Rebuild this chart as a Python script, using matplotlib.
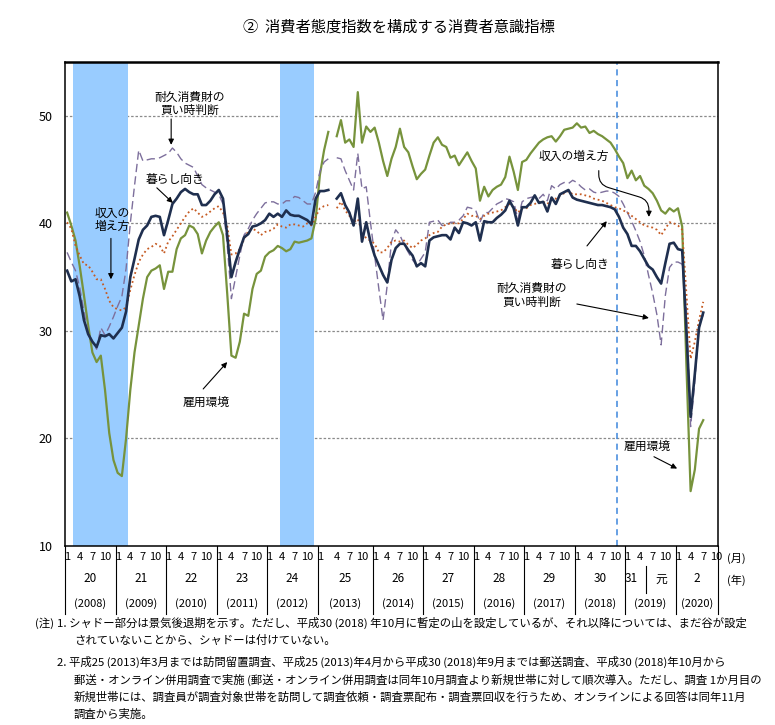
# -*- coding: utf-8 -*-

"""
消費者態度指数を構成する消費者意識指標 (2008年1月～2020年7月) を
折れ線グラフで描き、out.png に保存する
"""

import matplotlib
matplotlib.use("Agg")
import matplotlib.pyplot as plt
import matplotlib.transforms as mtransforms

plt.rcParams['font.family'] = ['Noto Sans CJK JP', 'DejaVu Sans']
NUM_FONT = ['Liberation Sans Narrow', 'Noto Sans CJK JP', 'DejaVu Sans']

# 月次データ 2008年1月から2020年7月まで (1年ごとに改行)
kurashi = [35.6, 34.6, 34.8, 33.2, 31.0, 29.7, 29.0, 28.5, 29.6, 29.5, 29.7, 29.3,
           29.8, 30.3, 31.8, 35.0, 36.7, 38.5, 39.4, 39.8, 40.6, 40.7, 40.6, 38.9,
           40.3, 41.8, 42.3, 42.9, 43.2, 42.9, 42.7, 42.7, 41.7, 41.7, 42.1, 42.7,
           43.1, 42.3, 38.9, 35.0, 36.4, 37.6, 38.7, 39.0, 39.7, 39.8, 40.0, 40.3,
           40.9, 40.6, 40.9, 40.6, 41.2, 40.8, 40.7, 40.7, 40.5, 40.3, 39.9, 42.3,
           43.0, 43.0, 43.1, 42.3, 42.8, 41.7, 41.0, 39.8, 42.3, 38.3, 40.1, 38.3,
           37.0, 36.1, 35.2, 34.5, 36.6, 37.7, 38.1, 38.1, 37.5, 37.0, 36.0, 36.3,
           36.0, 38.4, 38.7, 38.8, 38.9, 38.9, 38.5, 39.6, 39.1, 40.1, 40.0, 39.8,
           40.1, 38.4, 40.2, 40.1, 40.1, 40.5, 40.8, 41.2, 42.1, 41.4, 39.8, 41.5,
           41.5, 41.9, 42.6, 41.9, 42.0, 41.1, 42.4, 41.8, 42.7, 42.9, 43.1, 42.4,
           42.2, 42.1, 42.0, 41.9, 41.8, 41.7, 41.7, 41.6, 41.5, 41.3, 40.6, 39.6,
           39.0, 37.9, 37.9, 37.4, 36.7, 36.0, 35.7, 35.0, 34.4, 36.3, 38.1, 38.2,
           37.6, 37.5, 30.0, 22.0, 26.0, 30.3, 31.7]

shunyu = [40.1, 39.5, 37.9, 37.0, 36.2, 36.1, 35.5, 34.8, 34.8, 33.9, 32.8, 32.2,
          32.0, 31.9, 32.2, 33.8, 35.2, 36.4, 37.1, 37.6, 37.8, 38.1, 37.9, 37.2,
          38.3, 38.8, 39.4, 40.0, 40.6, 41.1, 41.4, 41.0, 40.6, 40.8, 41.1, 41.4,
          41.6, 41.0, 39.8, 37.1, 37.2, 37.6, 38.5, 39.3, 39.5, 39.3, 38.9, 39.2,
          39.3, 39.5, 39.9, 39.7, 39.6, 39.9, 39.9, 39.8, 39.7, 40.0, 39.8, 40.6,
          41.4, 41.6, 41.7, 41.4, 42.0, 41.2, 40.7, 40.1, 40.4, 39.2, 38.6, 38.4,
          38.1, 37.3, 37.3, 37.7, 38.3, 38.4, 38.3, 38.4, 38.0, 37.7, 38.0, 38.4,
          38.6, 38.9, 39.1, 39.2, 39.7, 39.9, 40.0, 40.0, 40.0, 40.4, 40.9, 40.7,
          40.7, 40.4, 40.7, 40.9, 41.0, 41.1, 41.2, 41.5, 41.8, 41.5, 41.0, 41.4,
          41.4, 41.7, 41.8, 42.0, 42.0, 41.8, 42.2, 42.3, 42.6, 42.8, 43.0, 42.7,
          42.7, 42.7, 42.6, 42.5, 42.3, 42.2, 42.1, 41.9, 41.7, 41.5, 41.4, 41.2,
          41.0, 40.7, 40.4, 40.1, 39.8, 39.7, 39.6, 39.4, 38.9, 39.5, 40.1, 40.0,
          39.8, 39.4, 33.5, 27.4, 29.0, 31.0, 32.7]

koyo = [41.0, 39.8, 38.4, 36.0, 33.3, 30.5, 28.0, 27.1, 27.7, 24.5, 20.5, 18.0,
        16.8, 16.5, 20.0, 24.5, 28.0, 30.5, 33.0, 35.0, 35.6, 35.8, 36.1, 33.9,
        35.5, 35.5, 37.6, 38.6, 38.9, 39.8, 39.6, 39.0, 37.2, 38.4, 39.2, 39.7,
        40.1, 38.9, 33.5, 27.7, 27.5, 29.0, 31.6, 31.4, 33.9, 35.3, 35.6, 36.9,
        37.3, 37.5, 37.9, 37.7, 37.4, 37.6, 38.3, 38.2, 38.3, 38.4, 38.6, 40.4,
        44.5, 46.8, 48.5, 48.1, 49.6, 47.5, 47.8, 47.1, 52.2, 47.5, 49.0, 48.5,
        48.9, 47.5, 45.8, 44.4, 46.0, 47.1, 48.8, 47.1, 46.6, 45.3, 44.1, 44.6,
        45.0, 46.3, 47.5, 48.0, 47.3, 47.1, 46.1, 46.3, 45.4, 46.0, 46.6, 45.8,
        45.1, 42.1, 43.4, 42.5, 43.1, 43.4, 43.6, 44.3, 46.2, 44.8, 43.1, 45.7,
        45.9, 46.5, 47.0, 47.5, 47.8, 48.0, 48.1, 47.6, 48.1, 48.7, 48.8, 48.9,
        49.3, 48.9, 49.0, 48.4, 48.6, 48.3, 48.1, 47.8, 47.5, 46.9, 46.2, 45.6,
        44.2, 44.9, 44.0, 44.4, 43.5, 43.2, 42.8, 42.1, 41.2, 40.9, 41.4, 41.1,
        41.4, 39.7, 26.8, 15.1, 17.1, 20.9, 21.7]

taikyu = [37.3, 36.4, 35.6, 34.0, 31.8, 29.8, 29.0, 28.3, 30.3, 29.6, 30.4, 31.3,
          32.3, 33.2, 35.8, 40.0, 43.5, 46.8, 45.8, 45.9, 46.0, 46.0, 46.1, 46.3,
          46.5, 47.0, 46.6, 46.0, 45.6, 45.4, 45.2, 44.4, 43.6, 43.3, 43.1, 42.9,
          42.7, 41.8, 38.0, 33.0, 35.0, 37.0, 38.9, 39.5, 40.3, 40.9, 41.4, 41.9,
          42.0, 42.0, 41.8, 41.8, 42.1, 42.1, 42.5, 42.4, 42.1, 41.8, 41.8, 42.9,
          44.8, 45.7, 46.0, 46.1, 46.0, 44.9, 44.0, 43.1, 46.5, 43.2, 43.4, 40.1,
          37.0, 33.9, 31.0, 34.3, 38.3, 39.4, 38.9, 38.0, 37.3, 36.6, 36.1, 36.7,
          37.3, 40.1, 40.2, 40.3, 39.8, 39.8, 40.1, 40.1, 40.3, 40.7, 41.5, 41.4,
          41.2, 40.1, 41.0, 41.0, 41.4, 41.8, 42.0, 42.3, 42.2, 42.0, 40.4, 42.0,
          42.3, 42.4, 42.5, 42.3, 42.7, 42.1, 43.5, 43.2, 43.6, 43.8, 43.7, 44.0,
          43.8, 43.4, 43.1, 43.2, 42.9, 42.8, 42.9, 43.0, 43.0, 42.8, 42.5, 41.8,
          41.0, 40.2, 39.3, 38.3, 37.0, 35.2, 33.5, 31.5, 28.7, 33.3, 35.9, 36.4,
          36.4, 36.2, 32.0, 21.1, 25.3, 30.5, 31.5]

# 年の目盛り
years = list(range(2008, 2021))
heisei = ["20", "21", "22", "23", "24", "25", "26", "27", "28", "29", "30", "", "2"]
month_ticks = ["1", "4", "7", "10"]

# 景気後退期 (山の月, 谷の月), 2008年1月を0とした月番号
recessions = [(1, 14), (50, 58)]
peak_2018 = 129          # 2018年10月 (暫定の山)
break_month = 63         # 2013年4月から調査方法変更 (系列を切る)
last_month = 153         # 横軸は2020年10月まで


def pos(m):
    """月番号を横軸の位置に変換する (2013年3月と4月の間に1つ空きを入れる)"""
    return m if m < break_month else m + 1


def px(x, y):
    """元画像のピクセル座標 (左上原点) を figure 座標に変換する"""
    return x / 775, 1 - y / 725


fig = plt.figure(figsize=(7.75, 7.25), dpi=100)
ax = fig.add_axes([65 / 775, 1 - 546 / 725, 653 / 775, 484 / 725])

#Recession shading and the 2018 peak line
for peak, trough in recessions:
    ax.axvspan(pos(peak) + 0.5, pos(trough) + 0.5, color="#99ccff", lw=0, zorder=2)
ax.axvline(pos(peak_2018) + 0.5, color="#3d86dc", ls=(0, (4, 3)), lw=1.1, zorder=2)

#Lines, split at the change of survey method
series = [(koyo, "#77933c", "-", 1.6, 3),
          (taikyu, "#7d6f9c", (0, (6, 3)), 1.0, 4),
          (shunyu, "#c55a22", (0, (1, 1.6)), 1.3, 5),
          (kurashi, "#1f2f4f", "-", 1.9, 6)]
for values, col, style, width, z in series:
    xs = [pos(m) for m in range(len(values))]
    ax.plot(xs[:break_month], values[:break_month], color=col, ls=style, lw=width, zorder=z)
    ax.plot(xs[break_month:], values[break_month:], color=col, ls=style, lw=width, zorder=z)

ax.set_xlim(-0.5, pos(last_month) + 0.5)
ax.set_ylim(10, 55)
ax.set_yticks([10, 20, 30, 40, 50])
ax.set_yticklabels(["10", "20", "30", "40", "50"], fontsize=9, family=NUM_FONT)
for v in [20, 30, 40, 50]:
    ax.axhline(v, color="#8a8a8a", ls=(0, (2, 1.5)), lw=0.9, zorder=1)
ax.tick_params(axis="y", length=0, pad=9)

#Month ticks 1 4 7 10
tick_pos = []
tick_lab = []
for k in range(len(years)):
    for j, lab in enumerate(month_ticks):
        m = 12 * k + 3 * j
        if m <= last_month:
            tick_pos.append(pos(m))
            tick_lab.append(lab)
ax.set_xticks(tick_pos)
ax.set_xticklabels(tick_lab, fontsize=8, family=NUM_FONT)
ax.tick_params(axis="x", length=0, pad=4)

for s in ax.spines.values():
    s.set_linewidth(1.1)
ax.spines["top"].set_linewidth(1.8)

#Year labels and separators under the axis
trans = mtransforms.blended_transform_factory(ax.transData, ax.transAxes)
for k, yr in enumerate(years):
    left = pos(12 * k) - 0.5
    right = min(pos(12 * k + 11), pos(last_month)) + 0.5
    mid = (left + right) / 2
    if heisei[k]:
        ax.text(mid, -0.068, heisei[k], transform=trans, ha="center", va="center",
                fontsize=8.5, family=NUM_FONT)
    ax.text(mid, -0.118, "(%d)" % yr, transform=trans, ha="center", va="center",
            fontsize=8, family=NUM_FONT)
    ax.plot([left, left], [0, -0.14], transform=trans, color="black", lw=0.8, clip_on=False)
ax.plot([pos(last_month) + 0.5] * 2, [0, -0.14], transform=trans, color="black", lw=0.8,
        clip_on=False)

# 平成31年 / 令和元年 (2019年5月で改元)
left19 = pos(132) - 0.5
split19 = pos(136) + 0.5
right19 = pos(143) + 0.5
ax.text((left19 + split19) / 2 - 1, -0.068, "31", transform=trans, ha="center", va="center",
        fontsize=8.5, family=NUM_FONT)
ax.text((split19 + right19) / 2, -0.068, "元", transform=trans, ha="center", va="center",
        fontsize=8.5)
ax.plot([split19, split19], [-0.041, -0.097], transform=trans, color="black", lw=0.8,
        clip_on=False)

fig.text(*px(736, 558), "(月)", ha="center", va="center", fontsize=8)
fig.text(*px(736, 580), "(年)", ha="center", va="center", fontsize=8)

#Labels with arrows
arrow = dict(arrowstyle="-|>", color="black", lw=0.8, mutation_scale=8, shrinkA=0, shrinkB=0)
curve = "arc,angleA=-90,angleB=90,armA=14,armB=17,rad=10"
labels = [("耐久消費財の\n買い時判断", (29.2, 51.1), (24.7, 49.7), (24.7, 47.3), "arc3"),
          ("暮らし向き", (25.6, 44.1), (21.3, 43.3), (25.1, 41.9), "arc3"),
          ("収入の\n増え方", (10.7, 40.3), (10.4, 38.6), (10.4, 34.8), "arc3"),
          ("雇用環境", (33.0, 23.4), (32.3, 24.6), (38.0, 27.1), "arc3"),
          ("収入の増え方", (120.3, 46.2), (126.2, 44.9), (138.1, 40.6), curve),
          ("暮らし向き", (121.7, 36.2), (123.4, 37.9), (128.1, 40.2), "arc3"),
          ("耐久消費財の\n買い時判断", (110.3, 33.3), (121.0, 32.5), (138.1, 31.2), "arc3"),
          ("雇用環境", (137.6, 19.3), (139.3, 18.3), (144.8, 17.2), "arc3")]
for text, where, start, tip, conn in labels:
    ax.text(where[0], where[1], text, ha="center", va="center", fontsize=8.5,
            linespacing=1.0, zorder=8)
    ax.annotate("", xy=tip, xytext=start, zorder=8,
                arrowprops=dict(arrow, connectionstyle=conn))

#Title and notes
fig.text(*px(399, 27), "②  消費者態度指数を構成する消費者意識指標", ha="center", va="center",
         fontsize=11)
notes = [(35, 623, "(注)"),
         (57, 623, "1. シャドー部分は景気後退期を示す。ただし、平成30 (2018) 年10月に暫定の山を設定しているが、それ以降については、まだ谷が設定"),
         (74, 640, "されていないことから、シャドーは付けていない。"),
         (57, 662, "2. 平成25 (2013)年3月までは訪問留置調査、平成25 (2013)年4月から平成30 (2018)年9月までは郵送調査、平成30 (2018)年10月から"),
         (74, 680, "郵送・オンライン併用調査で実施 (郵送・オンライン併用調査は同年10月調査より新規世帯に対して順次導入。ただし、調査 1か月目の"),
         (74, 697, "新規世帯には、調査員が調査対象世帯を訪問して調査依頼・調査票配布・調査票回収を行うため、オンラインによる回答は同年11月"),
         (74, 714, "調査から実施。")]
for x, y, text in notes:
    fig.text(*px(x, y), text, ha="left", va="center", fontsize=8.2)

fig.savefig("out.png", dpi=100)
